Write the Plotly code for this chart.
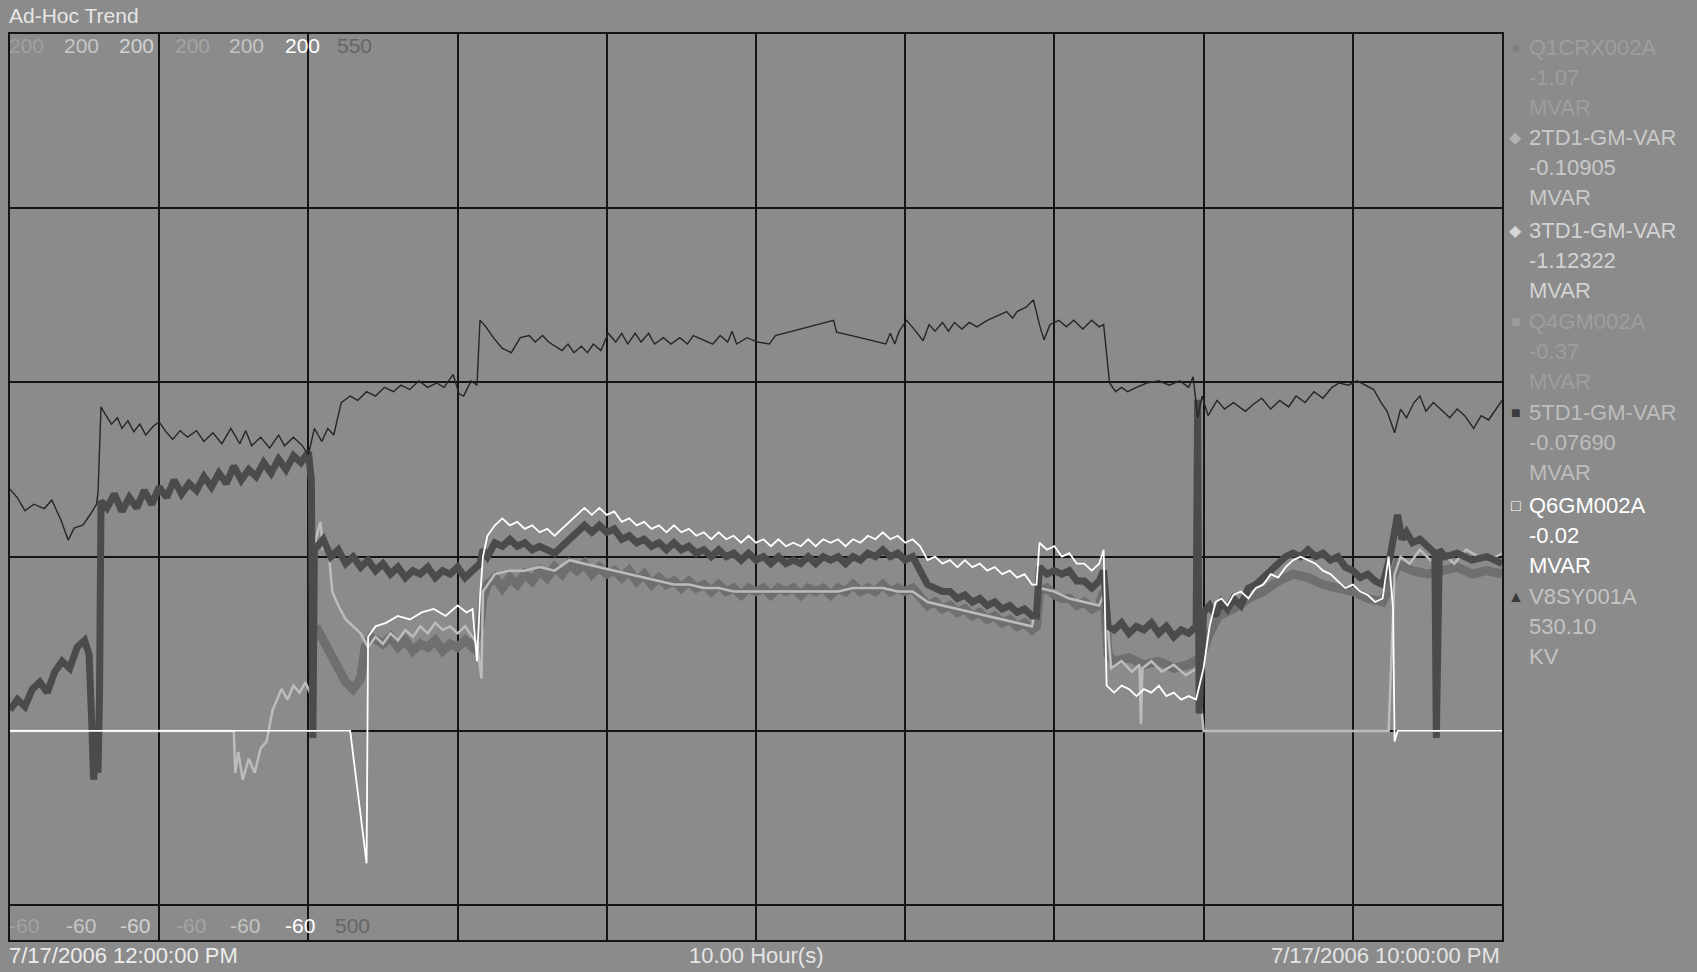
import plotly.graph_objects as go

# ---------------------------------------------------------------
# Ad-Hoc trend, 7/17/2006 12:00 PM - 10:00 PM
# time axis in hours after the start of the window
# ---------------------------------------------------------------

# V8SY001A bus voltage, kV (500..550 scale)
t_v8sy = [
    0.00, 0.05, 0.10, 0.16, 0.23, 0.28, 0.34, 0.39, 0.43, 0.49,
    0.54, 0.58, 0.59, 0.61, 0.64, 0.68, 0.72, 0.75, 0.79, 0.83,
    0.87, 0.91, 0.96, 1.00, 1.04, 1.09, 1.14, 1.19, 1.25, 1.30,
    1.36, 1.42, 1.48, 1.54, 1.58, 1.62, 1.68, 1.74, 1.80, 1.84,
    1.90, 1.96, 2.00, 2.04, 2.09, 2.13, 2.17, 2.22, 2.28, 2.33,
    2.39, 2.45, 2.51, 2.57, 2.62, 2.68, 2.74, 2.80, 2.86, 2.91,
    2.97, 3.01, 3.04, 3.09, 3.13, 3.15, 3.19, 3.24, 3.30, 3.36,
    3.42, 3.48, 3.52, 3.57, 3.61, 3.65, 3.70, 3.74, 3.78, 3.83,
    3.87, 3.91, 3.96, 4.01, 4.06, 4.10, 4.14, 4.19, 4.23, 4.28,
    4.32, 4.38, 4.43, 4.49, 4.54, 4.58, 4.65, 4.71, 4.76, 4.81,
    4.84, 4.87, 4.94, 5.01, 5.09, 5.13, 5.52, 5.54, 5.67, 5.87,
    5.90, 5.93, 5.96, 6.01, 6.07, 6.12, 6.16, 6.20, 6.25, 6.29,
    6.33, 6.38, 6.43, 6.48, 6.55, 6.62, 6.68, 6.72, 6.75, 6.81,
    6.86, 6.90, 6.93, 6.97, 7.03, 7.08, 7.13, 7.19, 7.25, 7.30,
    7.33, 7.37, 7.41, 7.45, 7.49, 7.55, 7.62, 7.70, 7.77, 7.84,
    7.90, 7.93, 7.96, 7.99, 8.03, 8.09, 8.14, 8.20, 8.28, 8.33,
    8.39, 8.45, 8.51, 8.57, 8.62, 8.68, 8.74, 8.80, 8.86, 8.91,
    8.97, 9.03, 9.09, 9.14, 9.19, 9.23, 9.28, 9.32, 9.36, 9.41,
    9.45, 9.49, 9.54, 9.59, 9.65, 9.70, 9.75, 9.81, 9.86, 9.91,
    9.96, 10.00,
]
kv_v8sy = [
    524.88, 524.40, 523.69, 524.05, 523.81, 524.28, 523.21, 522.07, 522.73, 522.91,
    523.51, 524.05, 524.70, 529.42, 529.00, 528.47, 528.82, 528.23, 528.65, 528.05,
    528.47, 527.87, 528.35, 528.59, 528.11, 527.63, 528.11, 527.75, 528.11, 527.51,
    527.99, 527.39, 528.23, 527.39, 528.11, 527.27, 527.75, 527.15, 527.87, 527.27,
    527.75, 527.27, 526.79, 528.23, 527.51, 528.23, 527.87, 529.66, 530.02, 529.78,
    530.26, 530.02, 530.50, 530.26, 530.62, 530.38, 530.86, 530.50, 530.74, 530.50,
    531.21, 530.14, 530.02, 530.86, 530.62, 534.20, 533.84, 533.24, 532.65, 532.41,
    533.24, 533.36, 533.00, 533.36, 533.00, 532.77, 532.53, 532.89, 532.41, 532.77,
    532.41, 532.89, 532.53, 533.48, 533.00, 533.48, 532.89, 533.48, 533.00, 533.48,
    532.89, 533.24, 532.89, 533.24, 532.89, 533.36, 533.12, 532.89, 533.36, 533.00,
    533.60, 532.89, 533.24, 533.00, 532.89, 533.36, 534.20, 533.54, 533.30, 532.89,
    533.48, 532.89, 533.60, 534.20, 533.60, 533.07, 533.96, 533.60, 534.08, 533.60,
    534.08, 533.72, 534.08, 533.84, 534.20, 534.44, 534.68, 534.32, 534.68, 534.92,
    535.33, 533.96, 533.12, 533.96, 534.20, 533.84, 534.20, 533.72, 534.20, 533.84,
    533.96, 530.74, 530.26, 530.50, 530.26, 530.50, 530.74, 530.86, 530.62, 530.86,
    530.50, 531.09, 528.82, 530.02, 528.94, 529.78, 529.30, 529.66, 529.18, 529.54,
    529.90, 529.30, 529.78, 529.42, 530.02, 529.66, 530.26, 529.90, 530.50, 530.74,
    530.62, 530.86, 530.62, 530.38, 529.66, 529.18, 527.99, 529.30, 528.82, 529.66,
    530.02, 529.18, 529.66, 529.30, 528.82, 529.30, 528.94, 528.23, 528.94, 528.70,
    529.30, 529.78,
]

# Q6GM002A reactive power, MVAR (-60..200 scale)
t_q6gm = [
    0.00, 2.28, 2.39, 2.40, 2.45, 2.52, 2.60, 2.68, 2.76, 2.84,
    2.92, 3.00, 3.06, 3.10, 3.13, 3.15, 3.17, 3.20, 3.25, 3.30,
    3.35, 3.40, 3.45, 3.50, 3.55, 3.60, 3.65, 3.70, 3.75, 3.80,
    3.85, 3.90, 3.95, 4.00, 4.05, 4.10, 4.15, 4.20, 4.25, 4.30,
    4.35, 4.40, 4.45, 4.50, 4.55, 4.60, 4.65, 4.70, 4.75, 4.80,
    4.85, 4.90, 4.95, 5.00, 5.05, 5.10, 5.15, 5.20, 5.25, 5.30,
    5.35, 5.40, 5.45, 5.50, 5.55, 5.60, 5.65, 5.70, 5.75, 5.80,
    5.85, 5.90, 5.95, 6.00, 6.05, 6.10, 6.15, 6.20, 6.25, 6.30,
    6.35, 6.40, 6.45, 6.50, 6.55, 6.60, 6.65, 6.70, 6.75, 6.80,
    6.85, 6.88, 6.90, 6.95, 7.00, 7.05, 7.10, 7.15, 7.20, 7.25,
    7.30, 7.33, 7.35, 7.40, 7.45, 7.50, 7.55, 7.60, 7.65, 7.70,
    7.75, 7.80, 7.85, 7.90, 7.95, 8.00, 8.04, 8.08, 8.12, 8.16,
    8.20, 8.25, 8.30, 8.35, 8.40, 8.45, 8.50, 8.55, 8.60, 8.65,
    8.70, 8.75, 8.80, 8.85, 8.90, 8.95, 9.00, 9.05, 9.10, 9.15,
    9.20, 9.24, 9.27, 9.28, 9.30, 10.00,
]
mvar_q6gm = [
    0, 0, -38, 27, 30, 31, 33, 32, 34, 35,
    33, 36, 34, 35, 20, 38, 50, 56, 59, 61,
    59, 60, 58, 59, 57, 58, 56, 58, 60, 62,
    64, 62, 64, 62, 63, 60, 61, 59, 60, 58,
    59, 57, 59, 57, 58, 56, 57, 55, 57, 55,
    56, 54, 56, 54, 55, 53, 55, 53, 54, 53,
    55, 53, 55, 54, 55, 53, 55, 54, 56, 55,
    57, 55, 56, 54, 55, 53, 49, 50, 48, 49,
    47, 49, 47, 48, 46, 47, 45, 46, 44, 45,
    42, 42, 54, 52, 53, 50, 51, 48, 48, 46,
    48, 52, 13, 11, 13, 12, 10, 12, 11, 13,
    10, 11, 9, 10, 9, 18, 30, 37, 38, 36,
    39, 40, 38, 41, 42, 45, 44, 47, 49, 50,
    49, 48, 46, 45, 43, 41, 42, 40, 39, 37,
    38, 50, 35, -3, 0, 0,
]

# 5TD1-GM-VAR, MVAR
t_5td1 = [
    0.00, 0.05, 0.10, 0.15, 0.20, 0.25, 0.30, 0.35, 0.40, 0.45,
    0.50, 0.53, 0.55, 0.56, 0.58, 0.59, 0.60, 0.61, 0.65, 0.70,
    0.75, 0.80, 0.85, 0.90, 0.95, 1.00, 1.05, 1.10, 1.15, 1.20,
    1.25, 1.30, 1.35, 1.40, 1.45, 1.50, 1.55, 1.60, 1.65, 1.70,
    1.75, 1.80, 1.85, 1.90, 1.95, 2.00, 2.02, 2.03, 2.04, 2.10,
    2.15, 2.20, 2.25, 2.30, 2.35, 2.40, 2.45, 2.50, 2.55, 2.60,
    2.65, 2.70, 2.75, 2.80, 2.85, 2.90, 2.95, 3.00, 3.05, 3.10,
    3.15, 3.17, 3.20, 3.25, 3.30, 3.35, 3.40, 3.45, 3.50, 3.55,
    3.60, 3.65, 3.70, 3.75, 3.80, 3.85, 3.90, 3.95, 4.00, 4.05,
    4.10, 4.15, 4.20, 4.25, 4.30, 4.35, 4.40, 4.45, 4.50, 4.55,
    4.60, 4.65, 4.70, 4.75, 4.80, 4.85, 4.90, 4.95, 5.00, 5.05,
    5.10, 5.15, 5.20, 5.25, 5.30, 5.35, 5.40, 5.45, 5.50, 5.55,
    5.60, 5.65, 5.70, 5.75, 5.80, 5.85, 5.90, 5.95, 6.00, 6.05,
    6.10, 6.15, 6.20, 6.25, 6.30, 6.35, 6.40, 6.45, 6.50, 6.55,
    6.60, 6.65, 6.70, 6.75, 6.80, 6.85, 6.88, 6.90, 6.95, 7.00,
    7.05, 7.10, 7.15, 7.20, 7.25, 7.30, 7.33, 7.36, 7.40, 7.45,
    7.50, 7.55, 7.60, 7.65, 7.70, 7.75, 7.80, 7.85, 7.90, 7.95,
    7.96, 7.97, 8.00, 8.04, 8.08, 8.12, 8.16, 8.20, 8.25, 8.30,
    8.35, 8.40, 8.45, 8.50, 8.55, 8.60, 8.65, 8.70, 8.75, 8.80,
    8.85, 8.90, 8.95, 9.00, 9.05, 9.10, 9.15, 9.20, 9.25, 9.30,
    9.33, 9.36, 9.40, 9.45, 9.50, 9.55, 9.56, 9.58, 9.62, 9.70,
    9.80, 9.90, 10.00,
]
mvar_5td1 = [
    6, 9, 7, 12, 14, 11, 17, 20, 18, 24,
    26, 22, 0, -14, -4, -12, 10, 66, 64, 68,
    63, 67, 64, 69, 65, 70, 67, 72, 68, 71,
    69, 73, 70, 74, 71, 76, 72, 75, 73, 77,
    74, 78, 75, 79, 77, 80, 72, -2, 52, 55,
    50, 52, 48, 50, 47, 49, 46, 48, 45, 47,
    44, 46, 45, 47, 44, 46, 45, 47, 44, 46,
    48, 52, 50, 54, 53, 55, 53, 54, 52, 53,
    52, 51, 53, 55, 57, 59, 57, 59, 57, 58,
    55, 56, 54, 55, 53, 54, 52, 54, 52, 53,
    51, 52, 50, 52, 50, 51, 49, 51, 49, 50,
    48, 50, 48, 49, 48, 50, 48, 50, 49, 50,
    48, 50, 49, 51, 50, 52, 50, 51, 49, 50,
    46, 42, 41, 40, 40, 38, 39, 37, 38, 36,
    37, 35, 36, 34, 35, 33, 33, 47, 45, 46,
    45, 46, 43, 43, 41, 43, 46, 30, 29, 31,
    28, 30, 29, 31, 28, 30, 27, 29, 28, 30,
    95, 5, 34, 36, 33, 37, 35, 38, 36, 41,
    42, 44, 46, 48, 50, 51, 50, 52, 50, 51,
    49, 50, 47, 46, 44, 45, 43, 42, 50, 62,
    55, 57, 54, 55, 53, 51, -2, 52, 50, 51,
    49, 50, 48,
]

# 3TD1-GM-VAR, MVAR
t_3td1 = [
    2.05, 2.10, 2.15, 2.20, 2.25, 2.30, 2.35, 2.38, 2.42, 2.50,
    2.55, 2.60, 2.65, 2.70, 2.75, 2.80, 2.85, 2.90, 2.95, 3.00,
    3.05, 3.10, 3.15, 3.17, 3.20, 3.25, 3.30, 3.35, 3.40, 3.45,
    3.50, 3.55, 3.60, 3.65, 3.70, 3.75, 3.80, 3.85, 3.90, 3.95,
    4.00, 4.05, 4.10, 4.15, 4.20, 4.25, 4.30, 4.35, 4.40, 4.45,
    4.50, 4.55, 4.60, 4.65, 4.70, 4.75, 4.80, 4.85, 4.90, 4.95,
    5.00, 5.05, 5.10, 5.15, 5.20, 5.25, 5.30, 5.35, 5.40, 5.45,
    5.50, 5.55, 5.60, 5.65, 5.70, 5.75, 5.80, 5.85, 5.90, 5.95,
    6.00, 6.05, 6.10, 6.15, 6.20, 6.25, 6.30, 6.35, 6.40, 6.45,
    6.50, 6.55, 6.60, 6.65, 6.70, 6.75, 6.80, 6.85, 6.88, 6.90,
    6.95, 7.00, 7.05, 7.10, 7.15, 7.20, 7.25, 7.30, 7.33, 7.36,
    7.40, 7.50, 7.60, 7.70, 7.80, 7.90, 7.98, 8.04, 8.10, 8.20,
    8.30, 8.40, 8.50, 8.60, 8.70, 8.80, 8.90, 9.00, 9.10, 9.20,
    9.25, 9.30, 9.40, 9.50, 9.60, 9.70, 9.80, 9.90, 10.00,
]
mvar_3td1 = [
    30, 26, 22, 18, 14, 12, 15, 24, 27, 25,
    27, 24, 26, 23, 25, 24, 26, 23, 25, 24,
    26, 24, 30, 38, 42, 44, 41, 44, 42, 45,
    43, 46, 44, 47, 45, 48, 46, 48, 45, 47,
    45, 46, 44, 46, 43, 45, 42, 44, 42, 43,
    41, 43, 41, 42, 40, 42, 40, 41, 39, 41,
    40, 41, 39, 41, 40, 41, 39, 41, 40, 41,
    39, 41, 40, 42, 40, 41, 40, 42, 40, 41,
    40, 41, 38, 36, 37, 35, 36, 34, 35, 33,
    34, 32, 33, 31, 32, 30, 31, 29, 30, 40,
    41, 39, 38, 38, 36, 37, 35, 36, 40, 22,
    20, 21, 19, 20, 18, 19, 21, 28, 33, 35,
    38, 40, 43, 45, 44, 42, 41, 40, 38, 37,
    42, 48, 46, 45, 46, 47, 45, 46, 45,
]

# 2TD1-GM-VAR, MVAR
t_2td1 = [
    0.00, 1.50, 1.51, 1.53, 1.56, 1.60, 1.64, 1.68, 1.72, 1.76,
    1.79, 1.82, 1.86, 1.90, 1.94, 1.98, 2.02, 2.04, 2.05, 2.08,
    2.10, 2.13, 2.16, 2.20, 2.25, 2.30, 2.35, 2.40, 2.45, 2.50,
    2.55, 2.60, 2.65, 2.70, 2.75, 2.80, 2.85, 2.90, 2.95, 3.00,
    3.05, 3.10, 3.13, 3.16, 3.17, 3.25, 3.35, 3.45, 3.55, 3.65,
    3.75, 3.85, 3.95, 4.05, 4.15, 4.25, 4.35, 4.45, 4.55, 4.65,
    4.75, 4.85, 4.95, 5.05, 5.15, 5.25, 5.35, 5.45, 5.55, 5.65,
    5.75, 5.85, 5.95, 6.05, 6.15, 6.25, 6.35, 6.45, 6.55, 6.65,
    6.75, 6.85, 6.90, 7.00, 7.10, 7.20, 7.30, 7.34, 7.38, 7.45,
    7.52, 7.57, 7.58, 7.59, 7.65, 7.72, 7.80, 7.88, 7.96, 8.00,
    9.24, 9.28, 9.32, 9.38, 9.45, 9.52, 9.60, 9.68, 9.76, 9.84,
    9.92, 10.00,
]
mvar_2td1 = [
    0, 0, -12, -6, -14, -8, -12, -5, -3, 6,
    9, 12, 9, 13, 11, 14, 10, 0, 55, 60,
    52, 54, 40, 36, 32, 30, 28, 24, 27, 25,
    28, 26, 29, 27, 30, 28, 31, 29, 30, 28,
    30, 27, 25, 15, 40, 45, 46, 46, 47, 46,
    49, 48, 47, 46, 45, 44, 43, 42, 42, 41,
    41, 40, 40, 40, 40, 40, 40, 40, 40, 41,
    41, 41, 40, 40, 37, 36, 35, 34, 33, 32,
    31, 30, 41, 40, 38, 37, 36, 40, 18, 20,
    17, 19, 2, 18, 20, 17, 19, 16, 18, 0,
    0, 45, 50, 48, 52, 49, 51, 48, 52, 50,
    49, 51,
]

# legend read-outs (tag, value, units) in display order
tag_names = ["Q1CRX002A", "2TD1-GM-VAR", "3TD1-GM-VAR", "Q4GM002A",
             "5TD1-GM-VAR", "Q6GM002A", "V8SY001A"]
tag_values = ["-1.07", "-0.10905", "-1.12322", "-0.37",
              "-0.07690", "-0.02", "530.10"]
tag_units = ["MVAR", "MVAR", "MVAR", "MVAR", "MVAR", "MVAR", "KV"]

# scale limits printed at the top / bottom of the plot, one per tag
scale_top = ["200", "200", "200", "200", "200", "200", "550"]
scale_bottom = ["-60", "-60", "-60", "-60", "-60", "-60", "500"]

start_label = "7/17/2006 12:00:00 PM"
span_label = "10.00 Hour(s)"
end_label = "7/17/2006 10:00:00 PM"

# ---------------------------------------------------------------
# styling
# ---------------------------------------------------------------
W, H = 1697, 972
L, R, T, B = 10, 1502, 34, 940           # plot rectangle (page px)
BG = "#8b8b8b"
GRID = "#141414"
FONT = "Liberation Sans, Arial, sans-serif"

tag_text_colors = ["#9e9e9e", "#c9c9c9", "#d3d3d3", "#9e9e9e",
                   "#bdbdbd", "#ffffff", "#c4c4c4"]
tag_markers = ["●", "◆", "◆", "■", "■", "□", "▲"]
tag_marker_colors = ["#7e7e7e", "#b2b2b2", "#d6d6d6", "#9c9c9c",
                     "#3c3c3c", "#ffffff", "#3a3a3a"]
scale_colors = ["#a0a0a0", "#c6c6c6", "#d2d2d2", "#a4a4a4",
                "#c4c4c4", "#ffffff", "#666666"]


def px(x):
    return (x - L) / (R - L)


def py(y):
    return (B - y) / (B - T)


fig = go.Figure()

fig.add_trace(go.Scatter(x=t_3td1, y=mvar_3td1, mode="lines", name="3TD1-GM-VAR",
                         line=dict(color="#6f6f6f", width=9)))
fig.add_trace(go.Scatter(x=t_2td1, y=mvar_2td1, mode="lines", name="2TD1-GM-VAR",
                         line=dict(color="#bcbcbc", width=2.5)))
fig.add_trace(go.Scatter(x=t_5td1, y=mvar_5td1, mode="lines", name="5TD1-GM-VAR",
                         line=dict(color="#4b4b4b", width=7)))
fig.add_trace(go.Scatter(x=t_q6gm, y=mvar_q6gm, mode="lines", name="Q6GM002A",
                         line=dict(color="#ffffff", width=1.8)))
fig.add_trace(go.Scatter(x=t_v8sy, y=kv_v8sy, mode="lines", name="V8SY001A",
                         yaxis="y2", line=dict(color="#262626", width=1.4)))

ann = []

ann.append(dict(text="Ad-Hoc Trend", x=px(7), y=py(15), xanchor="left", yanchor="middle",
                font=dict(size=21, color="#e6e6e6")))

top_x = [26, 81, 136, 192, 246, 302, 354]
bot_x = [24, 81, 135, 191, 245, 300, 352]
for i in range(len(scale_top)):
    ann.append(dict(text=scale_top[i], x=px(top_x[i]), y=py(46), xanchor="center",
                    yanchor="middle", font=dict(size=21, color=scale_colors[i])))
    ann.append(dict(text=scale_bottom[i], x=px(bot_x[i]), y=py(925), xanchor="center",
                    yanchor="middle", font=dict(size=21, color=scale_colors[i])))

ann.append(dict(text=start_label, x=px(7), y=py(955), xanchor="left", yanchor="middle",
                font=dict(size=22, color="#ececec")))
ann.append(dict(text=span_label, x=px(756), y=py(955), xanchor="center", yanchor="middle",
                font=dict(size=22, color="#e4e4e4")))
ann.append(dict(text=end_label, x=px(1502), y=py(955), xanchor="right", yanchor="middle",
                font=dict(size=22, color="#e4e4e4")))

name_y = [47.6, 137.5, 230.5, 321.4, 412.4, 505.4, 596.4]
for i in range(len(tag_names)):
    y0 = name_y[i]
    ann.append(dict(text=tag_markers[i], x=px(1516), y=py(y0), xanchor="center",
                    yanchor="middle", font=dict(size=16, color=tag_marker_colors[i])))
    for k, line in enumerate([tag_names[i], tag_values[i], tag_units[i]]):
        ann.append(dict(text=line, x=px(1527), y=py(y0 + 30 * k), xanchor="left",
                        yanchor="middle", font=dict(size=22, color=tag_text_colors[i])))

for a in ann:
    a.update(xref="paper", yref="paper", showarrow=False)

fig.update_layout(
    width=W, height=H,
    margin=dict(l=L, r=W - R, t=T, b=H - B, pad=0),
    paper_bgcolor=BG, plot_bgcolor=BG,
    showlegend=False,
    font=dict(family=FONT),
    xaxis=dict(range=[0, 10], tick0=0, dtick=1, showgrid=True, gridcolor=GRID, gridwidth=2,
               showticklabels=False, ticks="", zeroline=False,
               showline=True, mirror=True, linecolor=GRID, linewidth=2),
    yaxis=dict(range=[-60, 200], tickvals=[-50, 0, 50, 100, 150], showgrid=True,
               gridcolor=GRID, gridwidth=2, showticklabels=False, ticks="", zeroline=False,
               showline=True, mirror=True, linecolor=GRID, linewidth=2),
    yaxis2=dict(range=[500, 550], overlaying="y", visible=False),
    annotations=ann,
)

fig.write_html("out.html")
